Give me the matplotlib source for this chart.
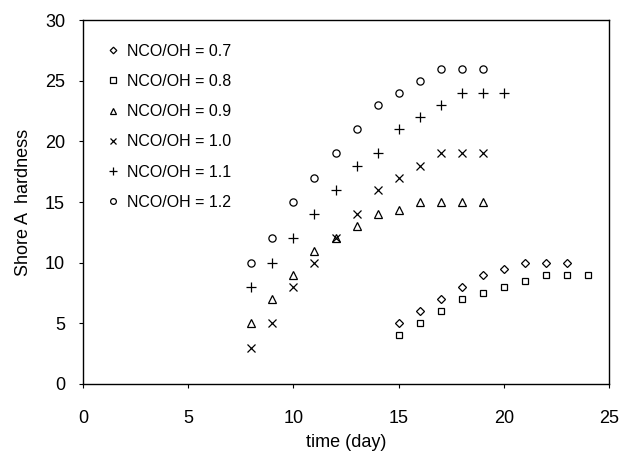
import matplotlib.pyplot as plt

plt.rcParams["font.family"] = ["Liberation Sans", "DejaVu Sans"]

DAYS_EARLY = [8, 9, 10, 11, 12, 13, 14, 15, 16, 17, 18, 19]
DAYS_LATE = [15, 16, 17, 18, 19, 20, 21, 22, 23, 24]

hardness_07 = [5, 6, 7, 8, 9, 9.5, 10, 10, 10]
hardness_08 = [4, 5, 6, 7, 7.5, 8, 8.5, 9, 9, 9]
hardness_09 = [5, 7, 9, 11, 12, 13, 14, 14.3, 15, 15, 15, 15]
hardness_10 = [3, 5, 8, 10, 12, 14, 16, 17, 18, 19, 19, 19]
hardness_11 = [8, 10, 12, 14, 16, 18, 19, 21, 22, 23, 24, 24, 24]
hardness_12 = [10, 12, 15, 17, 19, 21, 23, 24, 25, 26, 26, 26]

labels = ["NCO/OH = 0.7", "NCO/OH = 0.8", "NCO/OH = 0.9",
          "NCO/OH = 1.0", "NCO/OH = 1.1", "NCO/OH = 1.2"]


def hardness_chart():
    fig = plt.figure(figsize=(6.21, 4.59), dpi=100)
    ax = fig.add_axes([0.1337, 0.1634, 0.847, 0.7930])

    series = [
        (DAYS_LATE[:9], hardness_07, "D", 4.2),
        (DAYS_LATE, hardness_08, "s", 4.7),
        (DAYS_EARLY, hardness_09, "^", 5.7),
        (DAYS_EARLY, hardness_10, "x", 6.0),
        (DAYS_EARLY + [20], hardness_11, "+", 6.5),
        (DAYS_EARLY, hardness_12, "o", 5.2),
    ]
    for (x, y, marker, size), label in zip(series, labels):
        ax.plot(x, y, linestyle="none", marker=marker, markersize=size,
                markerfacecolor="none", markeredgecolor="black",
                markeredgewidth=0.9, color="black", label=label)

    ax.set_xlim(0, 25)
    ax.set_ylim(0, 30)
    ax.set_xticks(range(0, 26, 5))
    ax.set_yticks(range(0, 31, 5))
    ax.tick_params(direction="out", length=3, width=0.8, labelsize=13)
    ax.tick_params(axis="x", pad=16)
    ax.tick_params(axis="y", pad=10)
    for spine in ax.spines.values():
        spine.set_linewidth(1.0)
        spine.set_color("black")

    ax.set_xlabel("time (day)", fontsize=13, labelpad=5)
    ax.set_ylabel("Shore A  hardness", fontsize=13, labelpad=9)

    ax.legend(loc="upper left", bbox_to_anchor=(0.035, 0.952),
              frameon=False, fontsize=11.5, handlelength=0.7,
              handletextpad=0.5, labelspacing=0.95, borderaxespad=0,
              markerscale=0.8)

    fig.savefig("out.png", dpi=100)
    plt.close(fig)


if __name__ == "__main__":
    hardness_chart()
